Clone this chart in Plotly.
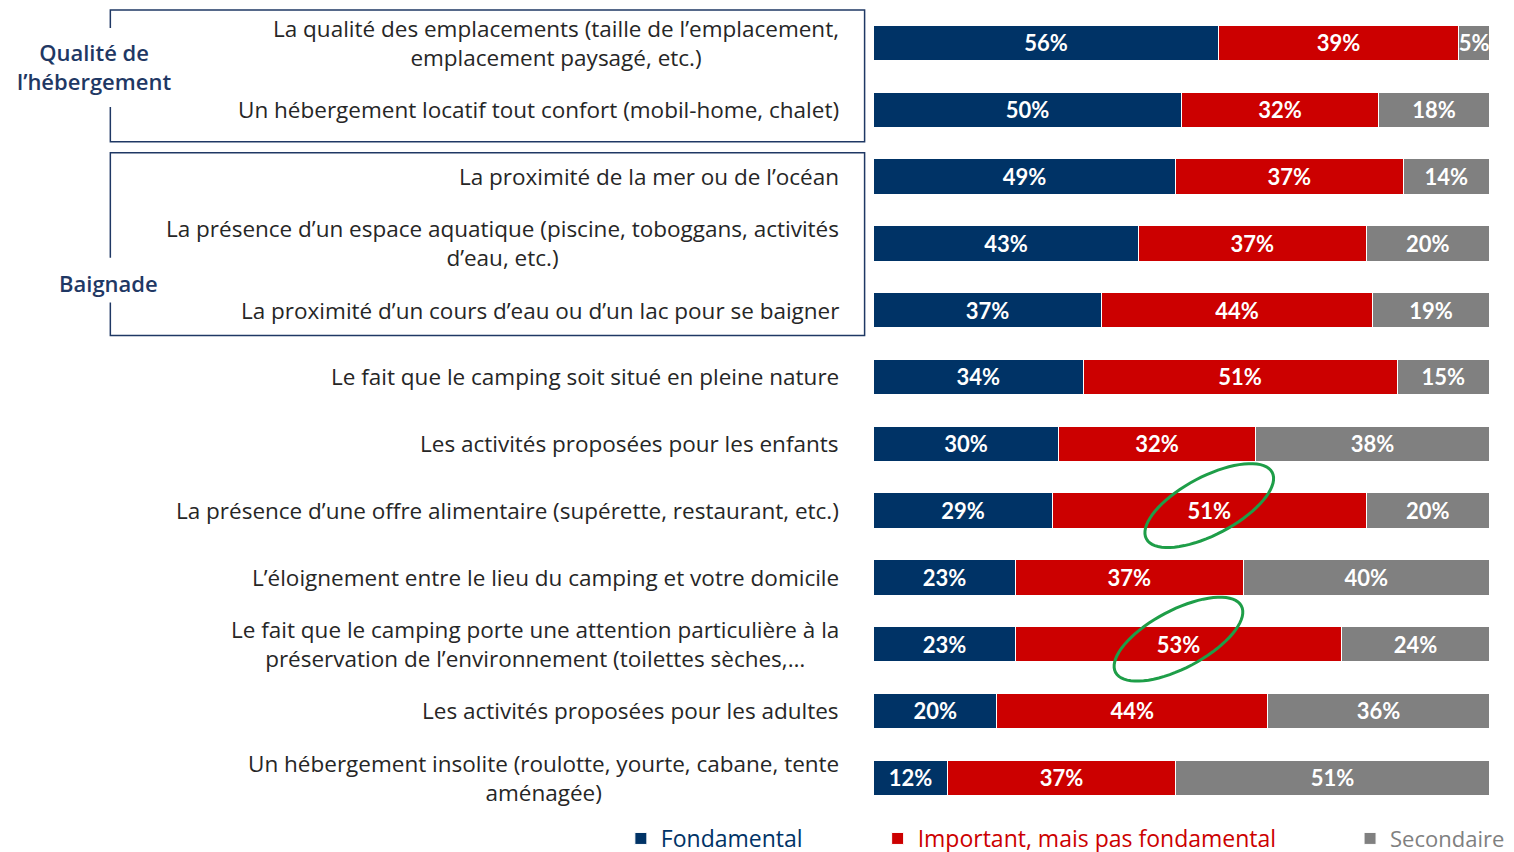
import math
import plotly.graph_objects as go

categories = [
    "La qualité des emplacements (taille de l’emplacement,<br>emplacement paysagé, etc.)",
    "Un hébergement locatif tout confort (mobil-home, chalet)",
    "La proximité de la mer ou de l’océan",
    "La présence d’un espace aquatique (piscine, toboggans, activités<br>d’eau, etc.)",
    "La proximité d’un cours d’eau ou d’un lac pour se baigner",
    "Le fait que le camping soit situé en pleine nature",
    "Les activités proposées pour les enfants",
    "La présence d’une offre alimentaire (supérette, restaurant, etc.)",
    "L’éloignement entre le lieu du camping et votre domicile",
    "Le fait que le camping porte une attention particulière à la<br>préservation de l’environnement (toilettes sèches,…",
    "Les activités proposées pour les adultes",
    "Un hébergement insolite (roulotte, yourte, cabane, tente<br>aménagée)",
]
fondamental = [56, 50, 49, 43, 37, 34, 30, 29, 23, 23, 20, 12]
important = [39, 32, 37, 37, 44, 51, 32, 51, 37, 53, 44, 37]
secondaire = [5, 18, 14, 20, 19, 15, 38, 20, 40, 24, 36, 51]
series_names = ["Fondamental", "Important, mais pas fondamental", "Secondaire"]
series_colors = ["#003366", "#CC0000", "#808080"]
group_labels = ["Qualité de<br>l’hébergement", "Baignade"]
highlighted_rows = [7, 9]  # rows whose middle value is circled

NAVY = "#1F3864"
LABEL_FONT = "Open Sans"
BAR_FONT = "Lato"

# page body keeps its default 8px margin: the figure sits at (8, 8)
OFF = 8
W, H = 1514 - OFF, 852
SX, SY = 0.997, 0.99  # observed compression of the captured page

# pixel layout of plot area (target picture coordinates)
X0, X1 = 871, 1485
Y0, Y1 = 9.5, 812.5
n = len(categories)
ypos = list(range(n))


def px(x):
    return (x / SX - OFF) / W


def py(y):
    return 1 - (y / SY - OFF) / H


fig = go.Figure()
for i, (name, vals, col) in enumerate(zip(series_names, [fondamental, important, secondaire], series_colors)):
    fig.add_trace(go.Bar(
        y=ypos, x=vals, orientation="h", name=name,
        marker=dict(color=col, line=dict(color="white", width=1)),
        width=0.53,
        text=[f"{v}%" for v in vals], textposition="inside", insidetextanchor="middle",
        textangle=0,
        textfont=dict(family=BAR_FONT, size=22, color="white", weight="bold"),
        constraintext="none", cliponaxis=False,
        legend=["legend", "legend2", "legend3"][i],
        hoverinfo="skip",
    ))

# category labels
for i, lab in enumerate(categories):
    fig.add_annotation(
        x=px(838), xref="paper", y=i, yref="y", text=lab, showarrow=False,
        xanchor="right", align="center", yanchor="middle",
        font=dict(family=LABEL_FONT, size=22.5, color="#262626"),
    )

# group labels
fig.add_annotation(x=px(94), xref="paper", y=py(67), yref="paper", text=group_labels[0],
                   showarrow=False, xanchor="center", yanchor="middle", align="center",
                   font=dict(family=LABEL_FONT, size=22, color=NAVY, weight=600))
fig.add_annotation(x=px(108), xref="paper", y=py(283), yref="paper", text=group_labels[1],
                   showarrow=False, xanchor="center", yanchor="middle", align="center",
                   font=dict(family=LABEL_FONT, size=22, color=NAVY, weight=600))


def ppath(points):
    s = ""
    for k, (x, y) in enumerate(points):
        s += ("M" if k == 0 else "L") + f"{px(x):.5f},{py(y):.5f} "
    return s


# group boxes (open on the left where label sits)
box_line = dict(color=NAVY, width=1.5)
fig.add_shape(type="path", xref="paper", yref="paper",
              path=ppath([(110, 28), (110, 10), (862, 10), (862, 142), (110, 142), (110, 107)]),
              line=box_line)
fig.add_shape(type="path", xref="paper", yref="paper",
              path=ppath([(110, 258), (110, 153), (862, 153), (862, 336), (110, 336), (110, 303)]),
              line=box_line)

# green ellipses around highlighted values
sx = (X1 - X0) / 100.0
sy = (Y1 - Y0) / n
for r in highlighted_rows:
    cx = fondamental[r] + important[r] / 2.0
    cy = r - 5 / sy
    a, b, ang = 71, 29, math.radians(28)
    pts = []
    for k in range(73):
        t = 2 * math.pi * k / 72
        dx = a * math.cos(t) * math.cos(ang) - b * math.sin(t) * math.sin(ang)
        dy = -(a * math.cos(t) * math.sin(ang) + b * math.sin(t) * math.cos(ang))
        pts.append((cx + dx / sx, cy + dy / sy))
    path = "M" + " L".join(f"{x:.3f},{y:.4f}" for x, y in pts) + " Z"
    fig.add_shape(type="path", xref="x", yref="y", path=path,
                  line=dict(color="#1E9E48", width=3))

legend_base = dict(orientation="h", yanchor="middle", xanchor="left", y=py(840),
                   bgcolor="rgba(0,0,0,0)", itemwidth=30, tracegroupgap=0)
fig.update_layout(
    width=W, height=H, margin=dict(l=0, r=0, t=0, b=0),
    paper_bgcolor="white", plot_bgcolor="white",
    barmode="stack",
    xaxis=dict(domain=[px(X0), px(X1)], range=[0, 100], visible=False, fixedrange=True),
    yaxis=dict(domain=[py(Y1), py(Y0)], range=[n - 0.5, -0.5], visible=False, fixedrange=True),
    legend=dict(**legend_base, x=px(619), font=dict(family=LABEL_FONT, size=23, color=series_colors[0])),
    legend2=dict(**legend_base, x=px(875), font=dict(family=LABEL_FONT, size=23, color=series_colors[1])),
    legend3=dict(**legend_base, x=px(1346), font=dict(family=LABEL_FONT, size=22, color=series_colors[2])),
    showlegend=True,
)

fig.write_html("out.html")
